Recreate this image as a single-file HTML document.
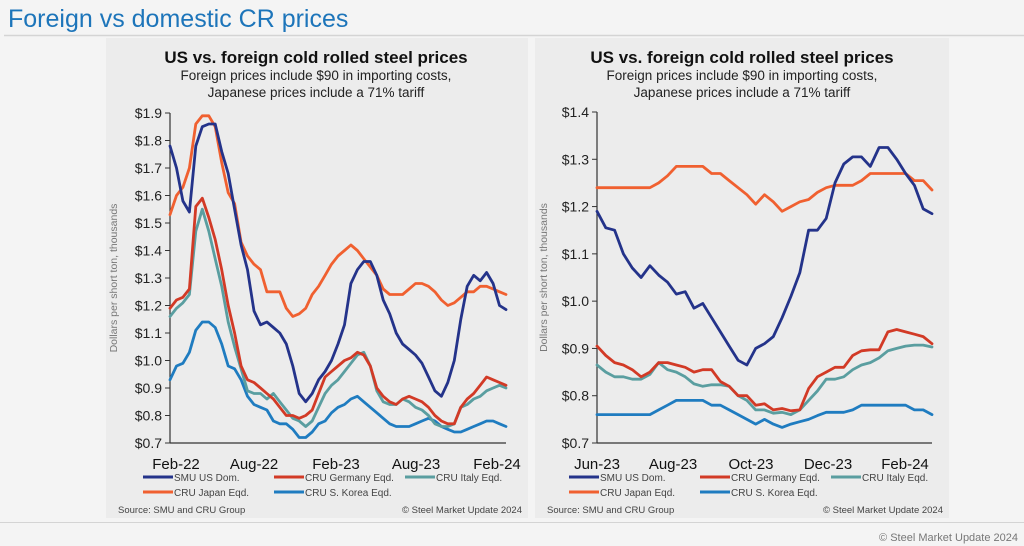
<!DOCTYPE html>
<html><head><meta charset="utf-8"><style>
html,body{margin:0;padding:0;background:#f4f4f4;}
svg{display:block;font-family:"Liberation Sans",Arial,sans-serif;}
</style></head><body>
<svg id="c" width="1024" height="546" viewBox="0 0 1024 546">
<rect x="0" y="0" width="1024" height="546" fill="#f4f4f4"/>
<text x="8" y="27" font-size="25" fill="#1d75ba">Foreign vs domestic CR prices</text>
<line x1="4" y1="35.5" x2="1024" y2="35.5" stroke="#d4d4d4" stroke-width="1.5"/>
<rect x="106" y="38" width="422" height="480" fill="#ececec"/>
<rect x="535" y="38" width="414" height="480" fill="#ececec"/>
<line x1="0" y1="522.5" x2="1024" y2="522.5" stroke="#d4d4d4" stroke-width="1"/>
<text x="1018" y="541" font-size="11" fill="#777" text-anchor="end">© Steel Market Update 2024</text>
<g id="left"></g>
<g id="right"></g>
</svg>
<script>
// ---- Left chart data (biweekly, Feb-22 to Feb-24) ----
const leftXLabels = ["Feb-22","Aug-22","Feb-23","Aug-23","Feb-24"];
const leftYTicks = [0.7,0.8,0.9,1.0,1.1,1.2,1.3,1.4,1.5,1.6,1.7,1.8,1.9];
const leftSMU = [1.78,1.70,1.58,1.54,1.78,1.85,1.86,1.86,1.76,1.68,1.55,1.42,1.33,1.18,1.13,1.14,1.12,1.10,1.06,0.98,0.88,0.85,0.88,0.93,0.96,1.00,1.06,1.13,1.28,1.33,1.36,1.36,1.31,1.22,1.17,1.10,1.06,1.04,1.02,0.99,0.94,0.89,0.87,0.92,1.00,1.15,1.27,1.31,1.29,1.32,1.28,1.20,1.185];
const leftGermany = [1.19,1.22,1.23,1.26,1.56,1.59,1.52,1.44,1.33,1.20,1.10,0.98,0.93,0.92,0.90,0.88,0.86,0.83,0.80,0.80,0.79,0.80,0.82,0.88,0.94,0.96,0.98,1.00,1.01,1.03,1.02,0.98,0.90,0.87,0.85,0.84,0.86,0.87,0.86,0.85,0.83,0.80,0.78,0.77,0.77,0.83,0.86,0.88,0.91,0.94,0.93,0.92,0.91];
const leftItaly = [1.16,1.19,1.21,1.24,1.47,1.55,1.47,1.37,1.27,1.14,1.05,0.97,0.89,0.88,0.88,0.86,0.88,0.85,0.82,0.79,0.78,0.76,0.78,0.83,0.88,0.91,0.93,0.96,0.99,1.02,1.03,0.98,0.89,0.85,0.84,0.84,0.86,0.85,0.83,0.82,0.80,0.77,0.76,0.76,0.77,0.83,0.84,0.86,0.87,0.89,0.90,0.91,0.90];
const leftJapan = [1.53,1.60,1.63,1.70,1.86,1.89,1.89,1.85,1.72,1.61,1.57,1.43,1.38,1.35,1.33,1.25,1.25,1.25,1.19,1.16,1.17,1.19,1.24,1.27,1.31,1.35,1.38,1.40,1.42,1.40,1.37,1.34,1.31,1.26,1.24,1.24,1.24,1.26,1.28,1.28,1.27,1.25,1.22,1.20,1.21,1.23,1.25,1.25,1.27,1.27,1.26,1.25,1.24];
const leftKorea = [0.93,0.98,0.99,1.03,1.11,1.14,1.14,1.12,1.06,0.98,0.97,0.93,0.87,0.84,0.83,0.82,0.78,0.77,0.77,0.75,0.72,0.72,0.74,0.77,0.78,0.81,0.83,0.84,0.86,0.87,0.85,0.83,0.81,0.79,0.77,0.76,0.76,0.76,0.77,0.78,0.79,0.78,0.76,0.75,0.74,0.74,0.75,0.76,0.77,0.78,0.78,0.77,0.76];

// ---- Right chart data (weekly, Jun-23 to Feb-24) ----
const rightXLabels = ["Jun-23","Aug-23","Oct-23","Dec-23","Feb-24"];
const rightYTicks = [0.7,0.8,0.9,1.0,1.1,1.2,1.3,1.4];
const rightSMU = [1.19,1.155,1.15,1.10,1.07,1.05,1.075,1.055,1.04,1.015,1.02,0.985,0.995,0.965,0.935,0.905,0.875,0.865,0.90,0.91,0.925,0.965,1.01,1.06,1.15,1.15,1.175,1.25,1.29,1.305,1.305,1.285,1.325,1.325,1.30,1.27,1.245,1.195,1.185];
const rightGermany = [0.905,0.885,0.87,0.865,0.855,0.84,0.85,0.87,0.87,0.865,0.86,0.85,0.855,0.855,0.83,0.82,0.80,0.80,0.78,0.783,0.77,0.773,0.768,0.77,0.815,0.84,0.85,0.86,0.86,0.885,0.895,0.897,0.897,0.935,0.94,0.935,0.93,0.925,0.91];
const rightItaly = [0.865,0.85,0.84,0.84,0.835,0.835,0.845,0.87,0.855,0.85,0.84,0.825,0.82,0.823,0.823,0.82,0.80,0.79,0.77,0.77,0.763,0.765,0.76,0.77,0.79,0.81,0.835,0.835,0.84,0.855,0.865,0.87,0.88,0.895,0.90,0.905,0.907,0.907,0.903];
const rightJapan = [1.24,1.24,1.24,1.24,1.24,1.24,1.24,1.25,1.265,1.285,1.285,1.285,1.285,1.27,1.27,1.255,1.24,1.225,1.205,1.225,1.21,1.19,1.20,1.21,1.215,1.23,1.24,1.245,1.245,1.245,1.255,1.27,1.27,1.27,1.27,1.27,1.255,1.255,1.235];
const rightKorea = [0.76,0.76,0.76,0.76,0.76,0.76,0.76,0.77,0.78,0.79,0.79,0.79,0.79,0.78,0.78,0.77,0.76,0.75,0.74,0.75,0.74,0.733,0.74,0.745,0.75,0.758,0.765,0.765,0.765,0.77,0.78,0.78,0.78,0.78,0.78,0.78,0.77,0.77,0.76];

const seriesColors = {smu:"#24338a", germany:"#d23a26", italy:"#5a9ea0", japan:"#f06030", korea:"#1f7cc0"};
const NS = "http://www.w3.org/2000/svg";
function mk(parent, tag, attrs){const e=document.createElementNS(NS,tag);for(const k in attrs)e.setAttribute(k,attrs[k]);parent.appendChild(e);return e;}

function drawChart(g, cfg){
  const {x0,x1,y0,y1,ymin,ymax,cx,labelX,yTicks,xLabels,xLabelPos,series,legendX,panelX,panelR} = cfg;
  const yS = v => y1 - (v-ymin)/(ymax-ymin)*(y1-y0);
  // title
  let t = mk(g,"text",{x:cx,y:63,"font-size":17,"font-weight":"bold","text-anchor":"middle",fill:"#111"});
  t.textContent="US vs. foreign cold rolled steel prices";
  
  
  t = mk(g,"text",{x:cx,y:80,"font-size":13.5,"text-anchor":"middle",fill:"#222"});
  t.textContent="Foreign prices include $90 in importing costs,";
  
  
  t = mk(g,"text",{x:cx,y:97,"font-size":13.5,"text-anchor":"middle",fill:"#222"});
  t.textContent="Japanese prices include a 71% tariff";
  
  
  // y axis
  let a = mk(g,"line",{x1:x0,y1:y0,x2:x0,y2:y1,stroke:"#333","stroke-width":1.2});
  
  
  a = mk(g,"line",{x1:x0,y1:y1,x2:x1,y2:y1,stroke:"#333","stroke-width":1.2});
  
  
  yTicks.forEach(v=>{
    const y=yS(v);
    const tk=mk(g,"line",{x1:x0-5,y1:y,x2:x0,y2:y,stroke:"#333","stroke-width":1});
    
    
    const tl=mk(g,"text",{x:x0-8,y:y+5,"font-size":14,"text-anchor":"end",fill:"#222"});
    tl.textContent="$"+v.toFixed(1);
    
    
  });
  xLabels.forEach((s,i)=>{
    const xl=mk(g,"text",{x:xLabelPos[i],y:469,"font-size":15,"text-anchor":"middle",fill:"#111"});
    xl.textContent=s;
    
    
  });
  const yt=mk(g,"text",{x:0,y:0,"font-size":10.5,"text-anchor":"middle",fill:"#777",transform:`translate(${labelX},${(y0+y1)/2}) rotate(-90)`});
  yt.textContent="Dollars per short ton, thousands";
  
  
  // series
  series.forEach(s=>{
    const n=s.values.length;
    const xS=i=>x0+ (i/(n-1))*(x1-x0);
    const d=s.values.map((v,i)=>(i?"L":"M")+xS(i).toFixed(1)+","+yS(v).toFixed(1)).join("");
    const p=mk(g,"path",{d:d,fill:"none",stroke:s.color,"stroke-width":2.8,"stroke-linejoin":"round","stroke-linecap":"round"});
    
    
  });
  // legend
  const legendItems=[["smu","SMU US Dom."],["germany","CRU Germany Eqd."],["italy","CRU Italy Eqd."],["japan","CRU Japan Eqd."],["korea","CRU S. Korea Eqd."]];
  legendItems.forEach((it,i)=>{
    const col=i%3,row=Math.floor(i/3);
    const lx=legendX+col*131, ly=477+row*15;
    const lg=mk(g,"g",{});
    
    
    mk(lg,"line",{x1:lx,y1:ly,x2:lx+30,y2:ly,stroke:seriesColors[it[0]],"stroke-width":3});
    const lt=mk(lg,"text",{x:lx+31,y:ly+4,"font-size":10,fill:"#444"});
    lt.textContent=it[1];
  });
  const src=mk(g,"text",{x:panelX+12,y:513,"font-size":9.5,fill:"#444"});
  src.textContent="Source: SMU and CRU Group";
  
  
  const cp=mk(g,"text",{x:panelR-6,y:513,"font-size":9.5,"text-anchor":"end",fill:"#444"});
  cp.textContent="© Steel Market Update 2024";
  
  
}

drawChart(document.getElementById("left"),{
  x0:170,x1:506,y0:113,y1:443,ymin:0.7,ymax:1.9,cx:316,labelX:117,
  yTicks:leftYTicks,xLabels:leftXLabels,xLabelPos:[176,254,336,416,497],
  legendX:143,panelX:106,panelR:528,
  series:[
    {key:"korea",color:seriesColors.korea,values:leftKorea},
    {key:"italy",color:seriesColors.italy,values:leftItaly},
    {key:"germany",color:seriesColors.germany,values:leftGermany},
    {key:"japan",color:seriesColors.japan,values:leftJapan},
    {key:"smu",color:seriesColors.smu,values:leftSMU}
  ]
});
drawChart(document.getElementById("right"),{
  x0:597,x1:932,y0:112,y1:443,ymin:0.7,ymax:1.4,cx:742,labelX:547,
  yTicks:rightYTicks,xLabels:rightXLabels,xLabelPos:[597,673,751,828,905],
  legendX:569,panelX:535,panelR:949,
  series:[
    {key:"korea",color:seriesColors.korea,values:rightKorea},
    {key:"italy",color:seriesColors.italy,values:rightItaly},
    {key:"germany",color:seriesColors.germany,values:rightGermany},
    {key:"japan",color:seriesColors.japan,values:rightJapan},
    {key:"smu",color:seriesColors.smu,values:rightSMU}
  ]
});
</script>
</body></html>
